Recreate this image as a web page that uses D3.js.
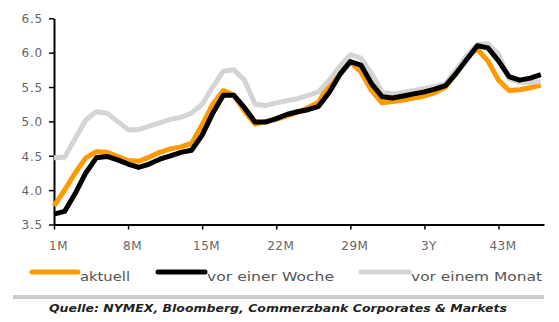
<!DOCTYPE html>
<html>
<head>
<meta charset="utf-8">
<script src="https://cdn.jsdelivr.net/npm/d3@7"></script>
<style>
  html, body { margin: 0; padding: 0; background: #fff; }
  svg { display: block; }
  text { font-family: "DejaVu Sans", Verdana, sans-serif; }
</style>
</head>
<body>
<svg id="chart" width="559" height="322"></svg>
<script>
// Forward curve by maturity (months), three snapshots
const months = d3.range(1, 48);

const aktuell = [
  3.77, 4.00, 4.25, 4.47, 4.56, 4.55, 4.49, 4.43, 4.42, 4.48,
  4.55, 4.60, 4.63, 4.68, 4.95, 5.25, 5.45, 5.38, 5.15, 4.96,
  5.00, 5.03, 5.08, 5.13, 5.20, 5.28, 5.55, 5.78, 5.87, 5.72,
  5.45, 5.27, 5.29, 5.31, 5.34, 5.37, 5.42, 5.50, 5.70, 5.95,
  6.05, 5.88, 5.60, 5.45, 5.46, 5.49, 5.53
];

const vorEinerWoche = [
  3.65, 3.69, 3.95, 4.25, 4.47, 4.49, 4.44, 4.38, 4.33, 4.38,
  4.45, 4.50, 4.55, 4.58, 4.80, 5.12, 5.38, 5.38, 5.20, 4.99,
  4.99, 5.04, 5.10, 5.14, 5.17, 5.22, 5.42, 5.68, 5.87, 5.82,
  5.55, 5.36, 5.34, 5.37, 5.40, 5.43, 5.47, 5.52, 5.70, 5.90,
  6.10, 6.07, 5.88, 5.65, 5.60, 5.63, 5.68
];

const vorEinemMonat = [
  4.47, 4.48, 4.75, 5.02, 5.14, 5.12, 5.00, 4.88, 4.88, 4.93,
  4.98, 5.03, 5.06, 5.12, 5.25, 5.50, 5.73, 5.75, 5.60, 5.25,
  5.23, 5.27, 5.30, 5.33, 5.38, 5.43, 5.60, 5.80, 5.97, 5.92,
  5.70, 5.42, 5.40, 5.42, 5.45, 5.48, 5.51, 5.55, 5.75, 5.95,
  6.12, 6.13, 5.98, 5.62, 5.57, 5.57, 5.58
];

const xTickMonths = [1, 8, 15, 22, 29, 36, 43];
const xTickLabels = ["1M", "8M", "15M", "22M", "29M", "3Y", "43M"];
const yTicks = [3.5, 4.0, 4.5, 5.0, 5.5, 6.0, 6.5];

const seriesNames = ["aktuell", "vor einer Woche", "vor einem Monat"];
const seriesColors = ["#ff9900", "#000000", "#d4d4d4"];
const sourceText = "Quelle: NYMEX, Bloomberg, Commerzbank Corporates & Markets";

const svg = d3.select("#chart");

const x = d3.scaleLinear().domain([1, 47.3]).range([54, 544]);
const y = d3.scaleLinear().domain([3.5, 6.5]).range([224.5, 18.3]);

// Y axis
const yAxis = svg.append("g")
  .attr("transform", `translate(${x.range()[0]},0)`)
  .call(d3.axisLeft(y).tickValues(yTicks).tickFormat(d3.format(".1f")).tickSize(5).tickSizeOuter(0));
yAxis.select(".domain").attr("stroke", "#000").attr("stroke-width", 2);
yAxis.selectAll(".tick line").attr("stroke", "#000").attr("stroke-width", 1.5);
yAxis.selectAll(".tick text")
  .attr("x", -11)
  .attr("dy", "0.36em")
  .attr("fill", "#666")
  .style("font-size", "12px")
  .style("letter-spacing", "0.8px");

// X axis
const xAxis = svg.append("g")
  .attr("transform", `translate(0,${y(3.5)})`)
  .call(d3.axisBottom(x).tickValues(xTickMonths)
    .tickFormat((d, i) => xTickLabels[i]).tickSize(5).tickSizeOuter(0));
xAxis.select(".domain").attr("stroke", "#000").attr("stroke-width", 2);
xAxis.selectAll(".tick line").attr("stroke", "#000").attr("stroke-width", 1.5);
xAxis.selectAll(".tick text")
  .attr("y", 17)
  .attr("dx", "4")
  .attr("dy", "0.71em")
  .attr("fill", "#666")
  .style("font-size", "12px")
  .style("letter-spacing", "0.5px");

// Curves: orange underneath, then grey, black on top
const line = d3.line()
  .x((d, i) => x(months[i]))
  .y(d => y(d))
  .curve(d3.curveLinear);

const drawOrder = [
  { values: aktuell, color: seriesColors[0] },
  { values: vorEinemMonat, color: seriesColors[2] },
  { values: vorEinerWoche, color: seriesColors[1] }
];
svg.append("g").selectAll("path")
  .data(drawOrder)
  .join("path")
  .attr("d", d => line(d.values))
  .attr("fill", "none")
  .attr("stroke", d => d.color)
  .attr("stroke-width", 5)
  .attr("stroke-linejoin", "round")
  .attr("stroke-linecap", "butt");

// Legend
const legendItems = [
  { x1: 32, x2: 78, tx: 80, tw: 50 },
  { x1: 158, x2: 205, tx: 207, tw: 127 },
  { x1: 361, x2: 409, tx: 411, tw: 131 }
];
const legend = svg.append("g");
legendItems.forEach((it, i) => {
  legend.append("line")
    .attr("x1", it.x1).attr("x2", it.x2)
    .attr("y1", 272).attr("y2", 272)
    .attr("stroke", seriesColors[i])
    .attr("stroke-width", 5)
    .attr("stroke-linecap", "round");
  legend.append("text")
    .attr("x", it.tx).attr("y", 280.5)
    .attr("fill", "#555")
    .style("font-size", "12px")
    .attr("textLength", it.tw)
    .attr("lengthAdjust", "spacingAndGlyphs")
    .text(seriesNames[i]);
});

// Separator and source note
svg.append("line")
  .attr("x1", 13).attr("x2", 544)
  .attr("y1", 297).attr("y2", 297)
  .attr("stroke", "#cccccc")
  .attr("stroke-width", 4);

svg.append("text")
  .attr("x", 49).attr("y", 312)
  .attr("fill", "#222")
  .style("font-size", "10.5px")
  .style("font-style", "italic")
  .style("font-weight", "bold")
  .attr("textLength", 458)
  .attr("lengthAdjust", "spacingAndGlyphs")
  .text(sourceText);
</script>
</body>
</html>
